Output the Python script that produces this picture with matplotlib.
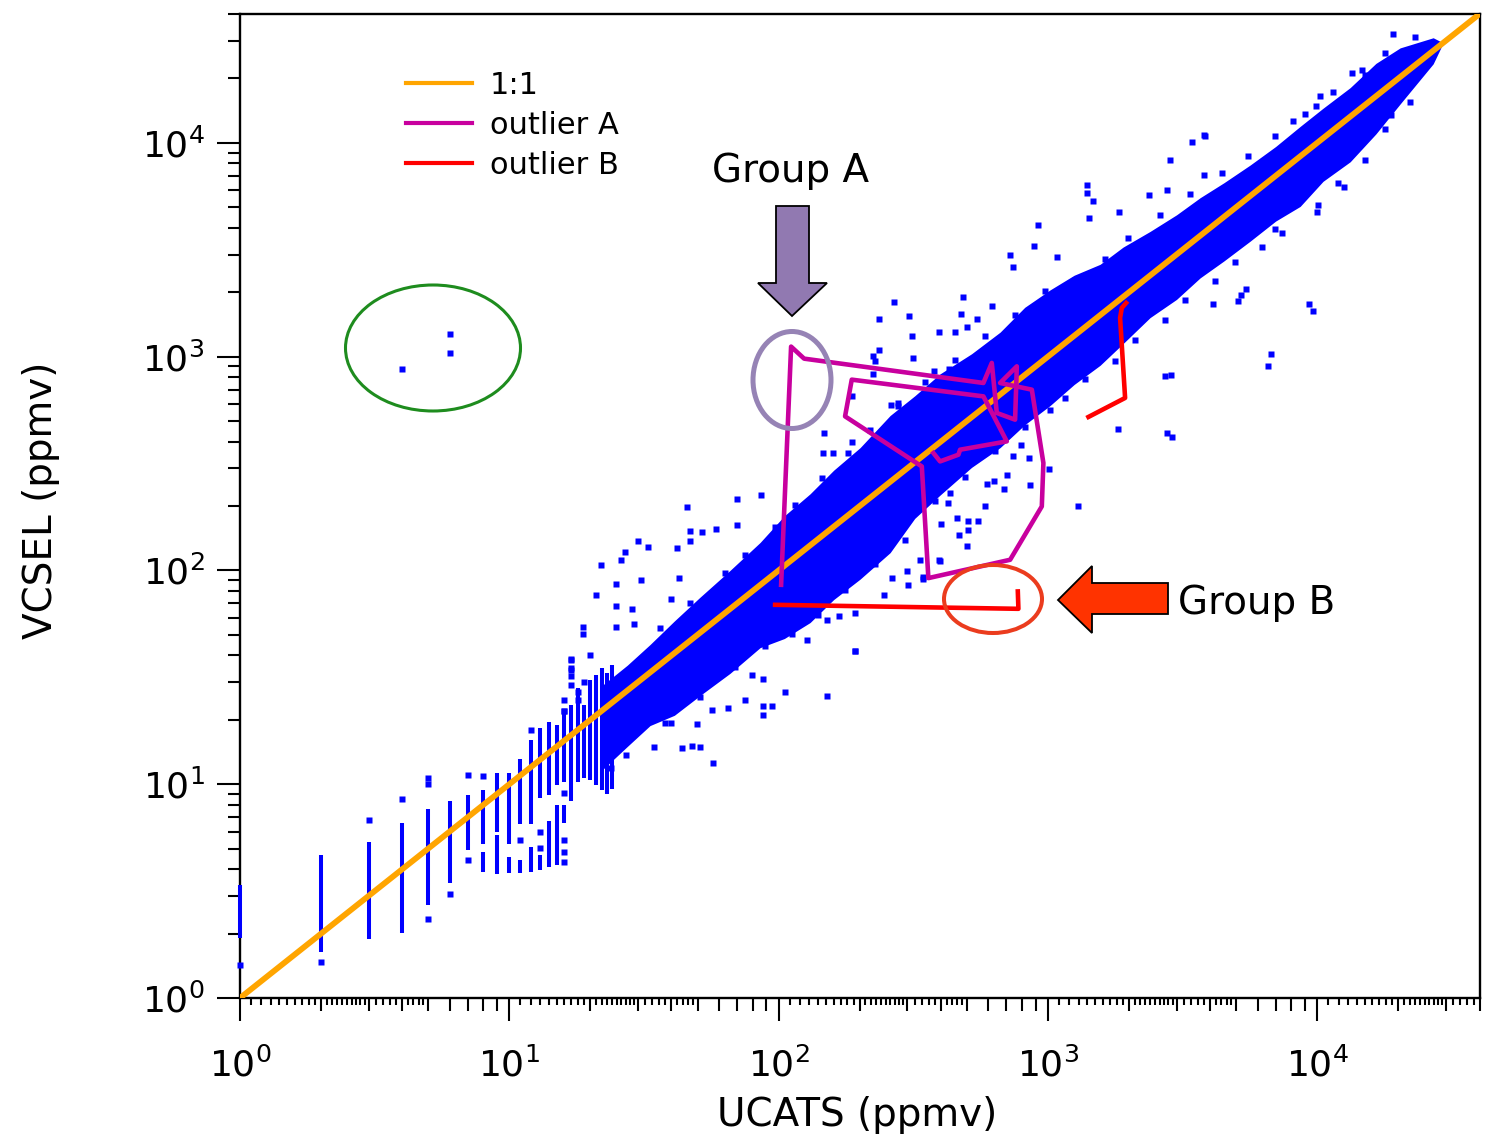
import numpy as np
import matplotlib

matplotlib.use("Agg")
import matplotlib.pyplot as plt
from matplotlib.patches import Ellipse, Polygon
from matplotlib.ticker import LogLocator, NullLocator

plt.rcParams["font.family"] = ["DejaVu Sans"]
plt.rcParams["mathtext.default"] = "regular"

W, H = 1485, 1143

# dense core of the UCATS / VCSEL cloud (envelope)
band_x = [21.7, 27.4, 33.3, 41.0, 51.1, 66.0, 85.3, 105, 130.8, 160, 200.6, 259.3,
          320, 397.5, 520, 663.8, 820, 1018, 1250, 1561, 1900, 2393, 3000, 3671,
          4500, 5629, 7000, 8632, 10500, 13240, 16500, 20300, 26920, 29320]
band_lo = [11.4, 15.0, 18.8, 21.0, 26.0, 33.0, 43.5, 48.0, 57.0, 73.0, 91.0, 121.0,
           175, 225, 303, 375, 480, 590, 740, 910, 1150, 1521, 1850, 2333,
           2800, 3464, 4300, 5036, 6600, 8145, 11000, 15190, 23390, 29320]
band_hi = [28.4, 36.0, 45.0, 58.0, 75.0, 100, 135, 180, 228, 294, 375, 530,
           655, 830, 1030, 1300, 1700, 2050, 2400, 2700, 3250, 3847, 4600, 5531,
           6500, 7863, 9600, 11920, 14500, 18100, 23500, 27770, 30970, 29320]

# quantised low-end columns (x, lowest y, highest y)
col_x = [1, 2, 3, 4, 5, 6, 7, 8, 8, 9, 9, 10, 10, 11, 11, 12, 12, 13, 13,
         14, 14, 15, 15, 16, 16, 17, 18, 19, 20, 21, 22, 23, 24]
col_lo = [1.91, 1.64, 1.89, 2.01, 2.72, 3.45, 4.93, 5.26, 3.9, 6.0, 3.8, 5.26, 3.84,
          6.5, 3.84, 6.5, 3.9, 8.6, 3.97, 8.9, 4.1, 9.9, 4.2, 10.25, 6.6, 8.3,
          10.25, 10.7, 10.5, 9.9, 9.4, 9.0, 9.5]
col_hi = [3.38, 4.67, 5.37, 6.59, 7.66, 8.36, 8.9, 9.4, 4.8, 11.3, 5.8, 11.3, 4.57,
          13.1, 4.4, 16.1, 5.1, 18.3, 4.67, 19.5, 6.7, 19.0, 8.0, 22.3, 8.0, 23.5,
          28.2, 23.5, 30.8, 32.5, 35.0, 33.0, 36.0]

# isolated points
pt_x = [4, 6, 6,
        1, 2, 3, 4, 5, 5, 5, 6, 7, 7, 8, 11, 12, 13, 13, 16, 16, 16, 16, 16, 16,
        17, 17, 17, 17, 18, 18, 19, 20,
        45.6, 69.9, 85.8, 21.9, 30.0, 26.9, 25.9, 32.8, 41.8, 46.9, 58.6, 51.8, 69.9,
        30.8, 24.8, 20.9, 24.9, 18.8, 24.9, 28.5, 29.0, 39.8, 42.8, 46.9, 16.9, 16.9,
        18.8, 15.97,
        57.2, 51.1, 43.9, 47.8, 34.3, 27.0, 23.9, 87.8, 94.8, 87.8, 105.6, 150.9,
        150.9, 168.1, 191.7, 127.2, 79.4, 87.3, 75.0, 64.7, 56.4, 49.6, 43.9, 40.0,
        485.2, 621.6, 475.6, 543.9, 502, 268.9, 235.9, 305.7, 312, 236.6, 316.4,
        395.1, 453.1, 430.4, 458.5, 378.6, 224.7, 228, 186.8, 223.6, 147.4, 145.8,
        158.8, 186.8, 261.5, 278.3, 325.7, 307.5, 375.4, 380.9,
        1297, 1009, 858.1, 853.1, 703, 592.6, 584, 551.5, 506.3, 506.3, 460.9,
        468.8, 499.3, 394.1, 424.6, 433.1, 399.9, 740.1, 792.5, 630.8, 687.1, 335,
        299, 263, 246.9, 192.2, 302.7, 344.6, 192.2, 396, 342.8,
        3798, 3428, 2840, 1401, 1401, 1467, 2380, 2776, 1425, 1842, 916.6, 890.7,
        723.3, 1084, 743.8, 6736, 6550, 2721, 2865, 2759, 2880, 1826, 5212, 5426,
        5093, 4114, 8152, 9322, 9647,
        13430, 15050, 10240, 9900, 8110, 3832, 18750, 10010, 6954, 12610, 19050, 3798,
        # fringe just outside the dense core
        1157, 1373, 1775, 2106, 2721, 3229, 4174, 4953, 6237, 7403, 10070, 11950,
        15050, 17860, 22110,
        1261, 1629, 1983, 2609, 3371, 4431, 5534, 6970, 9010, 11450, 14670, 17860, 23080,
        36.3, 46.9, 63.2, 75.0, 97.0, 115.1, 144.9, 181.0, 218.5, 277.6, 349.7, 451.9,
        584, 755.1, 975.4,
        37.9, 51.1, 68.9, 89.0, 112.1, 140.1, 176.4, 228.0, 294.7, 380.9, 492.3, 636.1,
        822.2, 1018]
pt_y = [870, 1040, 1280,
        1.43, 1.47, 6.8, 8.5, 10.7, 10.0, 2.34, 3.07, 11.0, 4.42, 10.95, 5.5, 17.9,
        6.0, 5.04, 24.8, 21.9, 9.1, 5.49, 4.84, 4.34,
        38.6, 35.0, 32.1, 29.2, 27.1, 24.8, 30.1, 40.3,
        197.8, 216.3, 225.9, 105.9, 137.1, 122.2, 112.1, 128.0, 127.2, 153.2, 156.1,
        150.4, 162.3, 89.7, 86.3, 76.3, 67.8, 54.6, 54.6, 65.9, 56.2, 73.6, 92.6,
        137.5, 38.2, 34.3, 50.3, 22.0,
        12.5, 15.0, 14.8, 15.1, 14.9, 13.7, 11.9, 23.1, 23.1, 21.1, 26.9, 25.9,
        58.7, 60.9, 42.0, 47.3, 32.5, 31.0, 24.8, 22.7, 22.3, 19.1, 25.7, 19.4,
        1900, 1718, 1582, 1499, 1370, 1801, 1504, 1542, 1243, 1069, 985, 1298,
        1298, 875, 875, 853, 1002, 950, 651, 829, 439, 354, 354, 397, 596, 607,
        629, 535, 675, 725,
        200.6, 297.9, 251.5, 335.4, 280.2, 254.3, 199.1, 169.3, 169.3, 154.9,
        175.6, 146.8, 130.3, 112.1, 206.5, 230.0, 165.2, 343.9, 387.0, 260.6,
        240.2, 112.1, 98.8, 92.0, 76.9, 63.1, 85.6, 93.6, 42.0, 110.9, 91.0,
        10810, 10050, 8345, 6373, 5829, 5325, 5680, 5995, 4452, 4729, 4111, 3280,
        2999, 2912, 2626, 1029, 906.7, 808, 823, 439, 420.6, 459.8, 1949, 2072,
        1826, 1768, 5267, 1768, 1640,
        21080, 20850, 16500, 14820, 12570, 10720, 13450, 4729, 3954, 6191, 32090, 7100,
        639, 784, 950, 1190, 1489, 1844, 2259, 2769, 3267, 3796, 5106, 6466,
        8315, 11600, 15490,
        2282, 2852, 3589, 4568, 5778, 7196, 8699, 10730, 13570, 17240, 21860, 26330, 31200,
        53.5, 70.6, 97.3, 117.9, 159.3, 201.5, 270.7, 353.0, 454.7, 590.2, 759.9, 960.7,
        1242, 1571, 2030,
        19.4, 25.6, 35.3, 44.2, 50.5, 61.8, 81.2, 107.2, 138.6, 210.4, 272.0, 363.3,
        469.6, 562.4]

# outlier flight segments
outlier_a_x = [102.1, 111.2, 124.3, 575.6, 618.4, 645.4, 754.8, 765.9, 663.8, 870.9,
               961.3, 948.3, 723.3, 359.6, 340.0, 176.4, 186.8, 575.6, 703, 471.6,
               464.9, 397.5, 375.4]
outlier_a_y = [85.6, 1113, 977.7, 752.4, 933.5, 544.7, 506.7, 900, 752.4, 700,
               317.7, 199.1, 112.1, 92.0, 306.3, 525.2, 779.8, 651.2, 401.1, 366.7,
               347.5, 323.3, 353.9]
outlier_b_x = [97.0, 776.4, 772.5, np.nan, 1413, 1933, 1852, 1879, 1950]
outlier_b_y = [69.0, 66.1, 79.7, np.nan, 521.8, 640.3, 1516, 1689, 1781]

one_to_one = [1, 40000]

BLUE = "#0000FF"
ORANGE = "#FFA500"
MAGENTA = "#C8009E"
RED = "#FF0000"


def fig_xy(px, py):
    return px / W, 1 - py / H


def small_x_ticks():
    subs = [1.1, 1.2, 1.3, 1.4, 1.5, 1.6, 1.7, 1.8, 1.9,
            2.1, 2.2, 2.3, 2.4, 2.5, 2.6, 2.7, 2.8, 2.9,
            3.2, 3.4, 3.6, 3.8, 4.2, 4.4, 4.6, 4.8]
    ticks = []
    for decade in [1, 10, 100, 1000, 10000]:
        ticks.extend(s * decade for s in subs if s * decade <= 40000)
    return ticks


fig = plt.figure(figsize=(W / 100, H / 100), dpi=100)
ax = fig.add_axes([240 / W, 1 - 998 / H, 1239.5 / W, 984 / H])
ax.set_xscale("log")
ax.set_yscale("log")

ax.fill_between(band_x, band_lo, band_hi, color=BLUE, lw=0, zorder=2)
ax.vlines(col_x, col_lo, col_hi, color=BLUE, lw=2.9, zorder=3, clip_on=False)
ax.plot(pt_x, pt_y, ls="none", marker="s", ms=4.2, mec="none", mfc=BLUE, zorder=3,
        clip_on=False)

ax.plot(one_to_one, one_to_one, color=ORANGE, lw=4.2, label="1:1", zorder=4)
ax.plot(outlier_a_x, outlier_a_y, color=MAGENTA, lw=3.3, label="outlier A", zorder=5)
ax.plot(outlier_b_x, outlier_b_y, color=RED, lw=3.3, label="outlier B", zorder=5)

ax.set_xlim(1, 40000)
ax.set_ylim(1, 40000)

for axis in (ax.xaxis, ax.yaxis):
    axis.set_major_locator(LogLocator(base=10, numticks=10))
    axis.set_minor_locator(LogLocator(base=10, subs=np.arange(2, 10), numticks=20))
ax.tick_params(which="both", direction="out", width=1.5, top=False, right=False)
ax.tick_params(which="major", length=16.5, labelsize=26)
ax.tick_params(which="minor", length=9)
ax.tick_params(axis="x", which="major", pad=19)
ax.tick_params(axis="y", which="major", pad=9)
for side in ax.spines.values():
    side.set_linewidth(1.7)

sec = ax.secondary_xaxis("bottom")
sec.set_xticks(small_x_ticks())
sec.xaxis.set_minor_locator(NullLocator())
sec.tick_params(which="major", direction="out", length=4.8, width=1.5, labelbottom=False)
sec.spines["bottom"].set_visible(False)

ax.set_xlabel("UCATS (ppmv)", fontsize=28, va="top")
ax.xaxis.set_label_coords(0.498, -0.100)
ax.set_ylabel("VCSEL (ppmv)", fontsize=28)
ax.yaxis.set_label_coords(-0.145, 0.506)

leg = ax.legend(loc="upper left", bbox_to_anchor=((406 - 240) / 1239.5, (998 - 71) / 984),
                frameon=False, fontsize=22, handlelength=2.16, handletextpad=0.59,
                labelspacing=0.36, borderpad=0, borderaxespad=0)
for line in leg.get_lines():
    line.set_linewidth(3.0)


# annotations drawn in figure pixels
def ellipse(cx, cy, w, h, color, lw):
    x, y = fig_xy(cx, cy)
    fig.patches.append(Ellipse((x, y), w / W, h / H, fill=False, ec=color, lw=lw,
                               transform=fig.transFigure, zorder=6))


def arrow(points, color):
    pts = [fig_xy(px, py) for px, py in points]
    fig.patches.append(Polygon(pts, closed=True, fc=color, ec="black", lw=1.3,
                               transform=fig.transFigure, zorder=6))


ellipse(433, 348, 175, 126, "#1E8C1E", 2.2)
ellipse(792, 380, 78, 97, "#9683B5", 3.6)
ellipse(993, 599, 98, 68, "#EB3C1E", 2.9)

arrow([(776, 206), (809, 206), (809, 283), (827, 283), (792, 316), (758, 283), (776, 283)],
      "#9179B1")
arrow([(1168, 583), (1092, 583), (1092, 566), (1058, 600), (1092, 633), (1092, 614),
       (1168, 614)], "#FF3300")

fig.text(*fig_xy(791, 171), "Group A", fontsize=28, ha="center", va="center")
fig.text(*fig_xy(1178, 603), "Group B", fontsize=28, ha="left", va="center")

fig.savefig("out.png", dpi=100)
